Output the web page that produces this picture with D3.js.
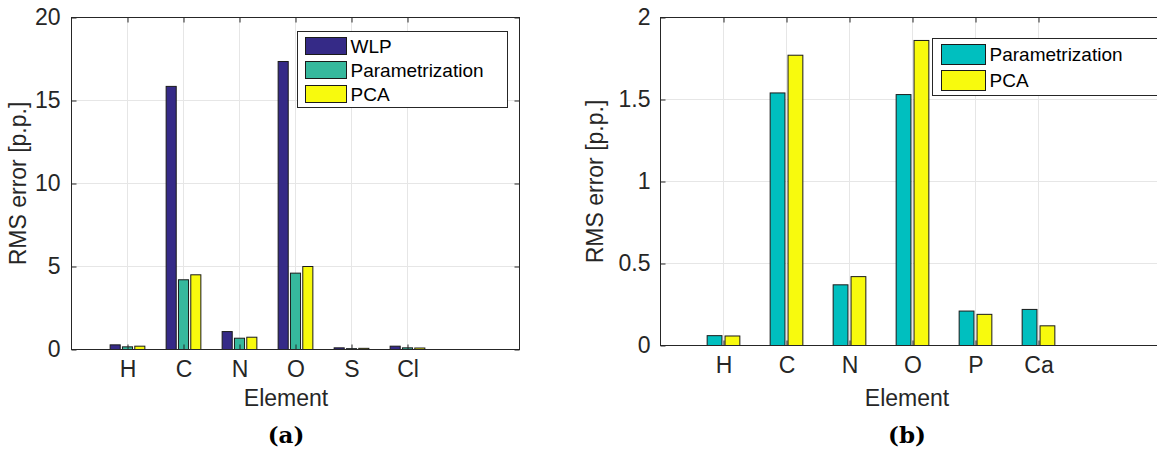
<!DOCTYPE html>
<html>
<head>
<meta charset="utf-8">
<script src="https://cdn.jsdelivr.net/npm/d3@7"></script>
<style>
  html, body { margin: 0; padding: 0; background: #fff; }
  svg { display: block; }
</style>
</head>
<body>
<svg id="fig" width="1157" height="450"></svg>
<script>
// Panel (a): three methods over six elements
const elementsA = ["H", "C", "N", "O", "S", "Cl"];
const seriesA = ["WLP", "Parametrization", "PCA"];
const wlpA = [0.28, 15.85, 1.08, 17.35, 0.10, 0.20];
const paramA = [0.16, 4.20, 0.68, 4.60, 0.05, 0.10];
const pcaA = [0.20, 4.50, 0.74, 5.00, 0.07, 0.09];
const colorsA = ["#352a87", "#36b89d", "#f8fa0d"];
const yTicksA = [0, 5, 10, 15, 20];

// Panel (b): two methods over six elements
const elementsB = ["H", "C", "N", "O", "P", "Ca"];
const seriesB = ["Parametrization", "PCA"];
const paramB = [0.06, 1.54, 0.37, 1.53, 0.21, 0.22];
const pcaB = [0.058, 1.77, 0.42, 1.86, 0.19, 0.12];
const colorsB = ["#00bfbf", "#f8fa0d"];
const yTicksB = [0, 0.5, 1, 1.5, 2];

const svg = d3.select("#fig");
const sans = "'Liberation Sans', Arial, Helvetica, sans-serif";
const serif = "'DejaVu Serif', 'Liberation Serif', serif";
const axisColor = "#262626";
const gridColor = "#e6e6e6";

function panel(opts) {
  const { left, right, top, bottom, elements, series, values, colors,
          yMax, yTicks, barWidth, offsets, legend, caption, captionX } = opts;
  const x = d3.scaleLinear().domain([0, 8]).range([left, right]);
  const y = d3.scaleLinear().domain([0, yMax]).range([bottom, top]);
  const g = svg.append("g");
  const clipId = "clip" + caption.replace(/\W/g, "");
  svg.append("clipPath").attr("id", clipId)
    .append("rect").attr("x", 0).attr("y", 0).attr("width", 1157).attr("height", 450);

  const positions = elements.map((d, i) => i + 1);

  // grid
  const grid = g.append("g");
  grid.selectAll("line.v").data(positions).join("line")
    .attr("x1", d => x(d)).attr("x2", d => x(d))
    .attr("y1", top).attr("y2", bottom)
    .attr("stroke", gridColor).attr("stroke-width", 1);
  grid.selectAll("line.h").data(yTicks.filter(t => t > 0 && t < yMax)).join("line")
    .attr("x1", left).attr("x2", right)
    .attr("y1", d => y(d)).attr("y2", d => y(d))
    .attr("stroke", gridColor).attr("stroke-width", 1);

  // bars
  series.forEach((s, si) => {
    g.append("g").selectAll("rect").data(values[si]).join("rect")
      .attr("x", (d, i) => x(i + 1 + offsets[si] - barWidth / 2))
      .attr("width", x(barWidth) - x(0))
      .attr("y", d => y(d))
      .attr("height", d => y(0) - y(d))
      .attr("fill", colors[si])
      .attr("stroke", "#1a1a1a")
      .attr("stroke-width", 1);
  });

  // axes with inward ticks on all four sides
  const yl = g.append("g").attr("transform", `translate(${left},0)`)
    .call(d3.axisLeft(y).tickValues(yTicks).tickSize(-5).tickPadding(opts.yPad)
      .tickFormat(d3.format("~g")));
  const yr = g.append("g").attr("transform", `translate(${right},0)`)
    .call(d3.axisRight(y).tickValues(yTicks).tickSize(-5).tickFormat(""));
  const xb = g.append("g").attr("transform", `translate(0,${bottom})`)
    .call(d3.axisBottom(x).tickValues(positions).tickSize(-5).tickPadding(11.5)
      .tickFormat((d, i) => elements[i]));
  const xt = g.append("g").attr("transform", `translate(0,${top})`)
    .call(d3.axisTop(x).tickValues(positions).tickSize(-5).tickFormat(""));
  [yl, yr, xb, xt].forEach(a => {
    a.selectAll("line").attr("stroke", axisColor).attr("stroke-width", 1);
    a.selectAll("text").attr("font-size", 23).attr("fill", axisColor)
      .attr("font-family", sans);
    a.select(".domain").remove();
  });
  // frame
  g.append("rect").attr("x", left).attr("y", top)
    .attr("width", right - left).attr("height", bottom - top)
    .attr("fill", "none").attr("stroke", axisColor).attr("stroke-width", 1);

  // axis titles
  g.append("text").attr("transform", `translate(${opts.yLabelX},${(top + bottom) / 2}) rotate(-90)`)
    .attr("text-anchor", "middle").attr("dominant-baseline", "central")
    .attr("font-family", sans).attr("fill", axisColor)
    .attr("font-size", 23).text("RMS error [p.p.]");
  g.append("text").attr("x", captionX).attr("y", 406)
    .attr("text-anchor", "middle").attr("font-family", sans).attr("fill", axisColor)
    .attr("font-size", 23).text("Element");
  g.append("text").attr("x", captionX).attr("y", 443)
    .attr("text-anchor", "middle").attr("font-size", 23).attr("font-weight", "bold")
    .attr("font-family", serif).attr("fill", "#000")
    .text(caption);

  // legend
  const lg = g.append("g").attr("clip-path", `url(#${clipId})`);
  lg.append("rect").attr("x", legend.x).attr("y", legend.y)
    .attr("width", legend.w).attr("height", legend.h)
    .attr("fill", "#fff").attr("stroke", axisColor).attr("stroke-width", 1);
  series.forEach((s, si) => {
    const ry = legend.y + legend.pad + si * legend.row;
    lg.append("rect").attr("x", legend.x + legend.sx).attr("y", ry)
      .attr("width", legend.sw).attr("height", legend.sh)
      .attr("fill", colors[si]).attr("stroke", "#1a1a1a").attr("stroke-width", 1);
    lg.append("text").attr("x", legend.x + legend.sx + legend.sw + 4)
      .attr("y", ry + legend.sh / 2).attr("dominant-baseline", "central")
      .attr("font-family", sans)
      .attr("font-size", 19).attr("fill", "#000").text(s);
  });
}

panel({
  left: 71.5, right: 519.5, top: 17.5, bottom: 349.5,
  elements: elementsA, series: seriesA, values: [wlpA, paramA, pcaA], colors: colorsA,
  yMax: 20, yTicks: yTicksA, barWidth: 0.18, offsets: [-0.22, 0, 0.22],
  legend: { x: 297.5, y: 31.5, w: 210, h: 76, pad: 6, row: 24, sx: 8, sw: 41, sh: 17 },
  caption: "(a)", captionX: 286, yLabelX: 18, yPad: 11
});

panel({
  left: 660.5, right: 1164.5, top: 17.5, bottom: 345.5,
  elements: elementsB, series: seriesB, values: [paramB, pcaB], colors: colorsB,
  yMax: 2, yTicks: yTicksB, barWidth: 0.235, offsets: [-0.142, 0.142],
  legend: { x: 932.5, y: 38.5, w: 240, h: 57, pad: 6, row: 26, sx: 9, sw: 44, sh: 20 },
  caption: "(b)", captionX: 907, yLabelX: 595, yPad: 10
});
</script>
</body>
</html>
